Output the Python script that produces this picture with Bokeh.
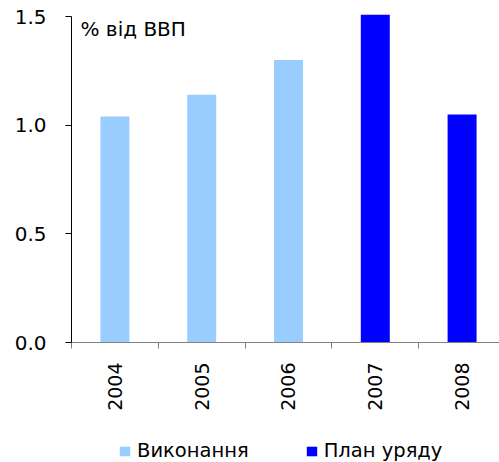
from math import pi
from bokeh.plotting import figure
from bokeh.layouts import column
from bokeh.models import (ColumnDataSource, Range1d, FixedTicker, Legend, LegendItem,
                          Label, NumeralTickFormatter)
from bokeh.embed import file_html
from bokeh.resources import INLINE

# ---- data ----
years = ["2004", "2005", "2006", "2007", "2008"]
actual_years = ["2004", "2005", "2006"]
actual_values = [1.04, 1.14, 1.30]
plan_years = ["2007", "2008"]
plan_values = [1.51, 1.05]
y_ticks = [0.0, 0.5, 1.0, 1.5]
series_names = ["Виконання", "План уряду"]
series_colors = ["#99CCFF", "#0000FF"]
unit_label = "% від ВВП"

FONT = "DejaVu Sans"
idx = {y: i for i, y in enumerate(years)}

src_a = ColumnDataSource(dict(x=[idx[y] for y in actual_years], top=actual_values))
src_p = ColumnDataSource(dict(x=[idx[y] for y in plan_years], top=plan_values))

p = figure(width=499, height=420, output_backend="svg", toolbar_location=None,
           x_range=Range1d(-0.5, 4.431), y_range=Range1d(0, 1.51),
           min_border_left=71, min_border_right=0, min_border_top=14,
           min_border_bottom=78)
p.background_fill_color = "white"
p.border_fill_color = "white"
p.outline_line_color = None
p.xgrid.visible = False
p.ygrid.visible = False

p.vbar(x="x", top="top", width=0.334, bottom=0, source=src_a,
       fill_color=series_colors[0], line_color=None)
p.vbar(x="x", top="top", width=0.334, bottom=0, source=src_p,
       fill_color=series_colors[1], line_color=None)

# x axis
xa = p.xaxis[0]
xa.ticker = FixedTicker(ticks=list(range(len(years))),
                        minor_ticks=[i - 0.5 for i in range(len(years))])
xa.major_label_overrides = {i: y for i, y in enumerate(years)}
xa.major_tick_out = 0
xa.major_tick_in = 0
xa.minor_tick_out = 6
xa.minor_tick_in = 0
xa.minor_tick_line_color = "#808080"
xa.axis_line_color = "#808080"
xa.major_label_orientation = pi / 2
xa.major_label_standoff = 14
xa.major_label_text_font = FONT
xa.major_label_text_font_size = "19px"
xa.major_label_text_color = "black"

# y axis
ya = p.yaxis[0]
ya.ticker = FixedTicker(ticks=y_ticks)
ya.formatter = NumeralTickFormatter(format="0.0")
ya.bounds = (0, 1.5)
ya.axis_line_color = "black"
ya.major_tick_line_color = "black"
ya.major_tick_out = 6
ya.major_tick_in = 0
ya.minor_tick_line_color = None
ya.major_label_standoff = 19
ya.major_label_text_font = FONT
ya.major_label_text_font_size = "20px"
ya.major_label_text_color = "black"

p.add_layout(Label(x=-0.5, y=1.5, x_offset=9, y_offset=0, text=unit_label,
                   text_baseline="top", text_align="left", text_font=FONT,
                   text_font_size="20px", text_color="black"))

# ---- legend strip (proxy renderers share the data but sit far outside the view) ----
pl = figure(width=499, height=42, output_backend="svg", toolbar_location=None,
            x_axis_location=None, y_axis_location=None,
            x_range=Range1d(-0.5, 4.431), y_range=Range1d(1000, 1001),
            min_border_left=0, min_border_right=0, min_border_top=0,
            min_border_bottom=0)
pl.grid.visible = False
pl.outline_line_color = None
pl.background_fill_color = "white"
pl.border_fill_color = "white"
la = pl.vbar(x="x", top="top", width=0.334, bottom=0, source=src_a,
             fill_color=series_colors[0], line_color=None)
lp = pl.vbar(x="x", top="top", width=0.334, bottom=0, source=src_p,
             fill_color=series_colors[1], line_color=None)

legend = Legend(items=[LegendItem(label=series_names[0], renderers=[la]),
                       LegendItem(label=series_names[1], renderers=[lp])],
                orientation="horizontal", location=(47, 0), padding=0, margin=0,
                spacing=56, glyph_width=13, glyph_height=12, label_standoff=6,
                label_height=19, label_text_font=FONT, label_text_font_size="19.5px",
                label_text_color="black", border_line_color=None,
                background_fill_alpha=0)
pl.add_layout(legend)

layout = column(p, pl, spacing=0)
open("out.html", "w").write(file_html(layout, INLINE))
